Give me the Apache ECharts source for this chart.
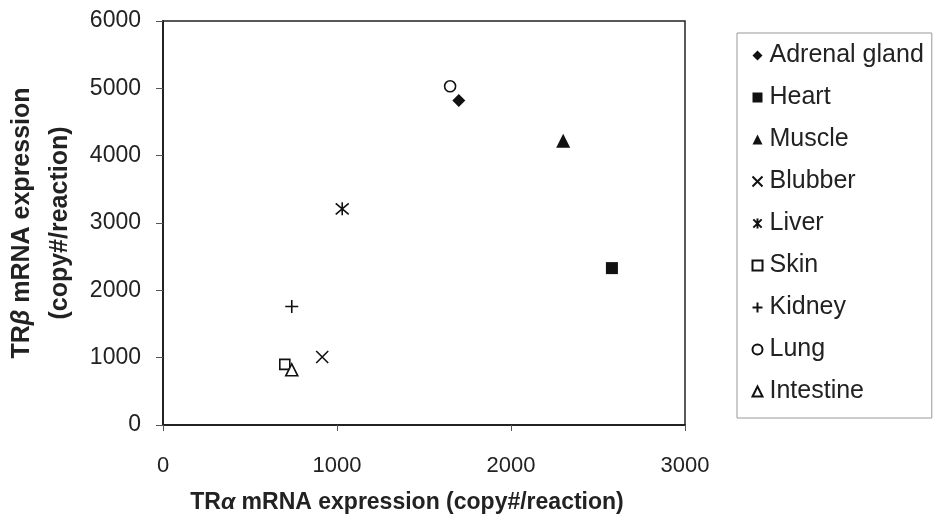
<!DOCTYPE html>
<html>
<head>
<meta charset="utf-8">
<script src="https://cdn.jsdelivr.net/npm/echarts@6/dist/echarts.min.js"></script>
<style>html,body{margin:0;padding:0;background:#fff}#c{width:934px;height:525px}</style>
</head>
<body>
<div id="c"></div>
<script>
const tissues = ['Adrenal gland','Heart','Muscle','Blubber','Liver','Skin','Kidney','Lung','Intestine'];
const trAlpha = [1700, 2580, 2300, 915, 1030, 700, 740, 1650, 740];
const trBeta  = [4820, 2330, 4220, 1010, 3210, 900, 1760, 5030, 820];
const xTicks = [0, 1000, 2000, 3000];
const yTicks = [0, 1000, 2000, 3000, 4000, 5000, 6000];

const FONT = '"Liberation Sans", Arial, sans-serif';
const symbols = [
  {symbol:'diamond', size:13, fill:'#111', stroke:'#111', bw:0},
  {symbol:'rect', size:12, fill:'#111', stroke:'#111', bw:0},
  {symbol:'triangle', size:14, fill:'#111', stroke:'#111', bw:0},
  {symbol:'path://M0,0L10,10M10,0L0,10', size:12, fill:'none', stroke:'#111', bw:1.6},
  {symbol:'path://M0,0L10,10M10,0L0,10M5,-1L5,11', size:13, fill:'none', stroke:'#111', bw:1.6},
  {symbol:'rect', size:10, fill:'#fff', stroke:'#111', bw:1.6},
  {symbol:'path://M5,0L5,10M0,5L10,5', size:13, fill:'none', stroke:'#111', bw:1.6},
  {symbol:'circle', size:11, fill:'#fff', stroke:'#111', bw:1.6},
  {symbol:'triangle', size:12, fill:'#fff', stroke:'#111', bw:1.6}
];

const series = tissues.map((name, i) => ({
  name: name,
  type: 'scatter',
  symbol: symbols[i].symbol,
  symbolSize: symbols[i].size,
  itemStyle: {color: symbols[i].fill, borderColor: symbols[i].stroke, borderWidth: symbols[i].bw, opacity: 1},
  data: [[trAlpha[i], trBeta[i]]],
  z: 3
}));

const plain = v => String(v);

const chart = echarts.init(document.getElementById('c'), null, {renderer:'canvas'});
chart.setOption({
  animation: false,
  backgroundColor: '#fff',
  textStyle: {fontFamily: FONT},
  grid: {left: 163, top: 21, right: 249, bottom: 100, outerBoundsMode: 'none', containLabel: false,
    show: true, borderColor: '#222', borderWidth: 1.5, backgroundColor: '#fff'},
  xAxis: {
    type: 'value', min: xTicks[0], max: xTicks[xTicks.length-1], interval: 1000,
    axisLine: {show: true, onZero: false, lineStyle: {color: '#222', width: 2}},
    axisTick: {show: true, inside: false, length: 6, lineStyle: {color: '#555'}},
    splitLine: {show: false},
    axisLabel: {color: '#222', fontSize: 22, margin: 30, fontFamily: FONT, formatter: plain},
    name: 'TR{g|α} mRNA expression (copy#/reaction)',
    nameLocation: 'middle', nameGap: 66,
    nameTextStyle: {color: '#222', fontSize: 23, fontWeight: 'bold', fontFamily: FONT, padding: [0, 34, 0, 0],
      rich: {g: {fontStyle: 'italic', fontWeight: 'bold', fontSize: 23, color:'#222', fontFamily: FONT}}}
  },
  yAxis: {
    type: 'value', min: yTicks[0], max: yTicks[yTicks.length-1], interval: 1000,
    axisLine: {show: true, onZero: false, lineStyle: {color: '#222', width: 2}},
    axisTick: {show: true, inside: false, length: 7, lineStyle: {color: '#555'}},
    splitLine: {show: false},
    axisLabel: {color: '#222', fontSize: 23, margin: 22, fontFamily: FONT, formatter: plain},
    name: 'TR{g|β} mRNA expression\n(copy#/reaction)',
    nameLocation: 'middle', nameGap: 82,
    nameTextStyle: {color: '#222', fontSize: 25, fontWeight: 'bold', lineHeight: 38, fontFamily: FONT,
      rich: {g: {fontStyle: 'italic', fontWeight: 'bold', fontSize: 25, color:'#222', fontFamily: FONT}}}
  },
  legend: {
    orient: 'vertical', left: 737, top: 33,
    padding: [10, 8, 14, 13],
    itemWidth: 10, itemHeight: 10, itemGap: 17,
    borderColor: '#999', borderWidth: 1,
    selectedMode: false,
    textStyle: {color: '#222', fontSize: 25, fontFamily: FONT, padding: [0,0,0,2]},
    data: tissues
  },
  series: series
});
</script>
</body>
</html>
